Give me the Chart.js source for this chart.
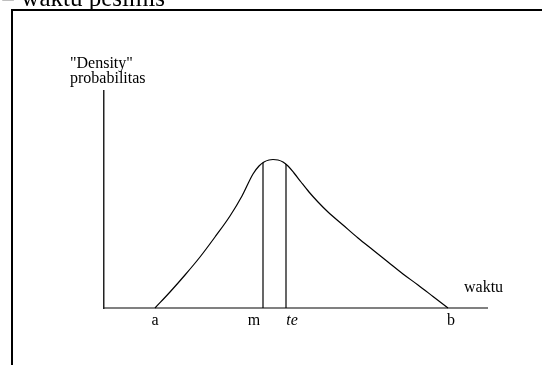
<!DOCTYPE html>
<html>
<head>
<meta charset="utf-8">
<script src="https://cdn.jsdelivr.net/npm/chart.js@4"></script>
<style>
html,body{margin:0;padding:0;background:#fff;}
#wrap{position:relative;width:542px;height:365px;overflow:hidden;}
</style>
</head>
<body>
<div id="wrap"><canvas id="c" width="542" height="365"></canvas></div>
<script>
// Curve (x = time units, y = density units)
const curveX = [51, 66, 81, 96, 111, 126, 138, 149, 155, 160, 165, 169, 174, 179, 184, 190, 197, 205, 214, 224, 239, 254, 269, 284, 299, 314, 329, 344];
const curveY = [0, 16, 33, 51, 71, 92, 112, 134, 142, 146, 148, 148.5, 148, 146, 142, 135, 126, 116, 106, 96, 83, 70, 58, 46, 34, 23, 11.5, 0];
// Vertical markers m and te
const markerX = [159, 182];
const markerTop = [145.5, 144];
// Axis tick labels and their positions
const tickLabels = ['a', 'm', 'te', 'b'];
const tickPos = [51, 150, 188, 347];
const yTitle = ['"Density"', 'probabilitas'];
const xTitle = 'waktu';
const header = '= waktu pesimis';

const SERIF = '"Liberation Serif", "Times New Roman", serif';

const datasets = [{
  data: curveX.map((x, i) => ({x: x, y: curveY[i]})),
  borderColor: '#000', borderWidth: 1.2, pointRadius: 0,
  cubicInterpolationMode: 'monotone', fill: false, clip: false
}];
markerX.forEach((mx, i) => {
  datasets.push({
    data: [{x: mx, y: 0}, {x: mx, y: markerTop[i]}],
    borderColor: '#000', borderWidth: 1.2, pointRadius: 0, fill: false, clip: false
  });
});

const textPlugin = {
  id: 'texts',
  beforeDraw(chart) {
    const ctx = chart.ctx;
    ctx.save();
    ctx.fillStyle = '#fff';
    ctx.fillRect(0, 0, chart.width, chart.height);
    ctx.strokeStyle = '#000';
    ctx.lineWidth = 2;
    ctx.strokeRect(12, 10, 600, 400);
    ctx.restore();
  },
  afterDraw(chart) {
    const ctx = chart.ctx;
    ctx.save();
    ctx.fillStyle = '#000';
    ctx.textBaseline = 'alphabetic';
    ctx.textAlign = 'left';
    ctx.font = '25px ' + SERIF;
    ctx.fillText(header, 1, 6);
    ctx.font = '16px ' + SERIF;
    ctx.fillText(yTitle[0], 70, 68);
    ctx.fillText(yTitle[1], 70, 83);
    ctx.fillText(xTitle, 464, 292);
    ctx.restore();
  }
};

new Chart(document.getElementById('c'), {
  type: 'line',
  data: {datasets: datasets},
  options: {
    responsive: false,
    animation: false,
    events: [],
    layout: {padding: {left: 104, top: 91, right: 55, bottom: 0}},
    plugins: {legend: {display: false}, tooltip: {enabled: false}},
    scales: {
      x: {
        type: 'linear', min: 0, max: 383,
        grid: {display: false, drawTicks: false},
        border: {display: true, color: '#808080', width: 2},
        afterFit(s) { s.height = 57; },
        afterBuildTicks(s) { s.ticks = tickPos.map(v => ({value: v})); },
        ticks: {
          padding: 3,
          color: '#000',
          maxRotation: 0,
          autoSkip: false,
          font: (ctx) => ({family: SERIF, size: 16, style: (ctx.index === 2 ? 'italic' : 'normal')}),
          callback: (v, i) => tickLabels[i]
        }
      },
      y: {
        type: 'linear', min: 0, max: 217,
        grid: {display: false, drawTicks: false},
        border: {display: true, color: '#222', width: 1.5},
        afterFit(s) { s.width = 0; },
        ticks: {display: false}
      }
    }
  },
  plugins: [textPlugin]
});
</script>
</body>
</html>
